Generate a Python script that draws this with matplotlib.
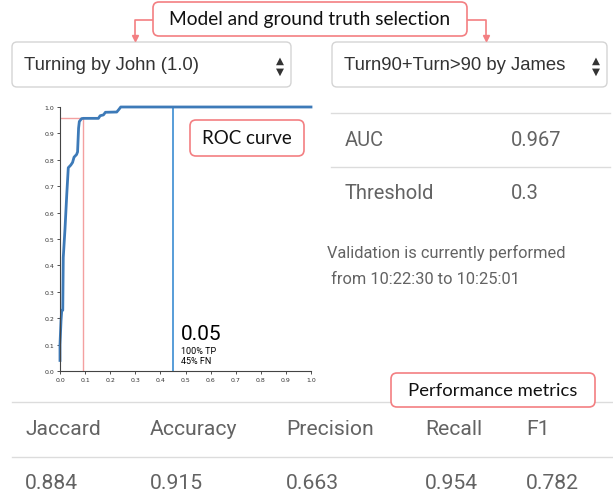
import matplotlib
matplotlib.use("Agg")
import matplotlib.pyplot as plt
from matplotlib.patches import FancyBboxPatch

# ROC curve
fpr = [0.0, 0.0, 0.004, 0.007, 0.011, 0.013, 0.02, 0.027, 0.033, 0.043, 0.05, 0.056,
       0.066, 0.07, 0.074, 0.077, 0.086, 0.093, 0.153, 0.16, 0.173, 0.181, 0.226,
       0.234, 0.242, 1.0]
tpr = [0.04, 0.10, 0.19, 0.23, 0.23, 0.43, 0.54, 0.67, 0.77, 0.78, 0.79, 0.81,
       0.82, 0.83, 0.92, 0.945, 0.956, 0.957, 0.957, 0.967, 0.97, 0.98, 0.981,
       0.99, 1.0, 1.0]
op_point = (0.09, 0.957)
cursor_x = 0.451
cursor_label = "0.05"
cursor_tp = "100% TP"
cursor_fn = "45% FN"

model_name = "Turning by John (1.0)"
truth_name = "Turn90+Turn>90 by James"
side_rows = [("AUC", "0.967"), ("Threshold", "0.3")]
validation_text = ["Validation is currently performed", " from 10:22:30 to 10:25:01"]
metric_names = ["Jaccard", "Accuracy", "Precision", "Recall", "F1"]
metric_values = ["0.884", "0.915", "0.663", "0.954", "0.782"]

W, H = 613, 502
fig = plt.figure(figsize=(W / 100, H / 100), dpi=100)
ui = fig.add_axes([0, 0, 1, 1])
ui.set_xlim(0, W)
ui.set_ylim(H, 0)
ui.axis("off")

red = "#f37f82"
grey_txt = "#636363"
line_c = "#dcdcdc"


def note_box(x0, y0, x1, y1, text, size):
    ui.add_patch(FancyBboxPatch((x0, y0), x1 - x0, y1 - y0,
                                boxstyle="round,pad=0,rounding_size=6",
                                fc="white", ec=red, lw=1.2, zorder=5))
    ui.text((x0 + x1) / 2, (y0 + y1) / 2, text, ha="center", va="center",
            fontsize=size, family="Lato", color="#111111", zorder=6)


# selection label and arrows
note_box(153, 3, 467, 37, "Model and ground truth selection", 13.8)
ui.plot([153, 135, 135], [21, 21, 36], color=red, lw=1.2)
ui.plot([467, 486, 486], [21, 21, 36], color=red, lw=1.2)
ui.plot([135], [39], marker="v", color=red, ms=5)
ui.plot([486], [39], marker="v", color=red, ms=5)

# dropdowns
for (x0, x1, txt) in [(12, 291, model_name), (332, 607, truth_name)]:
    ui.add_patch(FancyBboxPatch((x0, 43), x1 - x0, 45,
                                boxstyle="round,pad=0,rounding_size=5",
                                fc="white", ec="#d4d4d4", lw=1.0))
    ui.text(x0 + 12, 66, txt, ha="left", va="center", fontsize=13.3,
            family="Liberation Sans", color="#333333")
    ui.text(x1 - 11, 60.5, "\u25b2", ha="center", va="center", fontsize=7.5, color="#333333")
    ui.text(x1 - 11, 72, "\u25bc", ha="center", va="center", fontsize=7.5, color="#333333")

# side table
ui.plot([331, 610], [114, 114], color=line_c, lw=1)
ui.plot([331, 610], [168, 168], color=line_c, lw=1)
for i, (k, v) in enumerate(side_rows):
    y = 141 + i * 53
    ui.text(345, y, k, ha="left", va="center", fontsize=14.5, family="Roboto", color=grey_txt)
    ui.text(511, y, v, ha="left", va="center", fontsize=14.5, family="Roboto", color=grey_txt)
ui.text(327, 253, validation_text[0], ha="left", va="center", fontsize=11.8,
        family="Roboto", color=grey_txt)
ui.text(327, 280, validation_text[1], ha="left", va="center", fontsize=11.8,
        family="Roboto", color=grey_txt)

# metrics table
note_box(391, 374, 595, 408, "Performance metrics", 13.3)
ui.plot([12, 613], [403, 403], color=line_c, lw=1, zorder=1)
ui.plot([12, 613], [458, 458], color=line_c, lw=1)
col_x = [25, 150, 286, 425, 526]
for x, name, val in zip(col_x, metric_names, metric_values):
    ui.text(x, 430, name, ha="left", va="center", fontsize=15.2, family="Roboto", color=grey_txt)
    ui.text(x, 484, val, ha="left", va="center", fontsize=15.2, family="Roboto", color=grey_txt)

# ROC chart
ax = fig.add_axes([60 / W, 1 - 372 / H, 251 / W, 264 / H])
ax.patch.set_alpha(0)
ax.set_xlim(0, 1)
ax.set_ylim(0, 1)
ax.set_xticks([i / 10 for i in range(11)])
ax.set_yticks([i / 10 for i in range(11)])
ax.tick_params(labelsize=4.5, length=2.5, width=0.6, pad=1.5, colors="#333333")
for s in ["top", "right"]:
    ax.spines[s].set_visible(False)
for s in ["left", "bottom"]:
    ax.spines[s].set_color("#444444")
    ax.spines[s].set_linewidth(0.8)

ax.plot([0, op_point[0]], [op_point[1], op_point[1]], color="#f4a0a0", lw=1)
ax.plot([op_point[0], op_point[0]], [0, op_point[1]], color="#f4a0a0", lw=1)
ax.plot([cursor_x, cursor_x], [0, 1], color="#4a95d6", lw=1.3)
ax.plot(fpr, tpr, color="#3d7ab8", lw=2, solid_joinstyle="round", clip_on=False)

ax.text(cursor_x + 0.03, 0.121, cursor_label, fontsize=15, family="Roboto", color="black")
ax.text(cursor_x + 0.03, 0.068, cursor_tp, fontsize=6.5, family="Roboto", color="black")
ax.text(cursor_x + 0.03, 0.030, cursor_fn, fontsize=6.5, family="Roboto", color="black")

# ROC curve label
note_box(190, 121, 304, 157, "ROC curve", 13.5)

fig.savefig("out.png", dpi=100)
